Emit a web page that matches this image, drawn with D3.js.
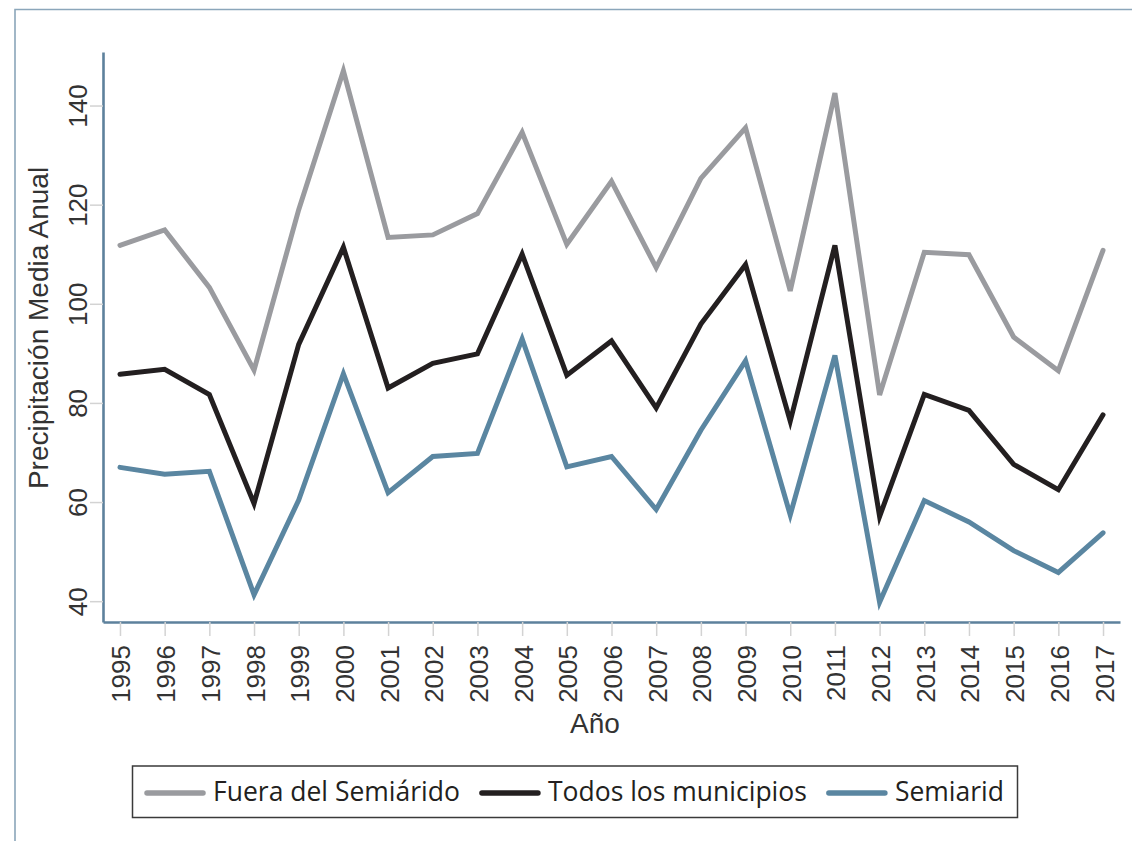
<!DOCTYPE html>
<html>
<head>
<meta charset="utf-8">
<script src="https://cdn.jsdelivr.net/npm/d3@7/dist/d3.min.js"></script>
<style>
  html, body { margin: 0; padding: 0; background: #fff; }
  svg { display: block; }
</style>
</head>
<body>
<div id="chart"></div>
<script>
// years on the x axis
const years = [1995, 1996, 1997, 1998, 1999, 2000, 2001, 2002, 2003, 2004, 2005, 2006,
  2007, 2008, 2009, 2010, 2011, 2012, 2013, 2014, 2015, 2016, 2017];

const fuera = [111.8, 114.9, 103.3, 86.6, 119.0, 147.0, 113.4, 113.9, 118.2, 134.6, 112.0, 124.7,
  107.3, 125.3, 135.5, 102.6, 142.5, 81.6, 110.4, 109.9, 93.3, 86.5, 110.8];
const todos = [85.8, 86.8, 81.7, 59.7, 91.8, 111.4, 83.0, 88.0, 89.9, 110.0, 85.6, 92.5,
  79.0, 95.9, 107.9, 76.3, 111.8, 57.1, 81.7, 78.5, 67.6, 62.5, 77.6];
const semiarid = [67.0, 65.6, 66.2, 41.3, 60.4, 85.9, 61.9, 69.2, 69.8, 92.9, 67.1, 69.2,
  58.5, 74.5, 88.5, 57.4, 89.6, 39.8, 60.3, 56.0, 50.2, 45.8, 53.8];

const yTicks = [40, 60, 80, 100, 120, 140];

const seriesNames = ['Fuera del Semiárido', 'Todos los municipios', 'Semiarid'];
const seriesColors = ['#9a9b9f', '#231f20', '#5a86a1'];
const seriesValues = [fuera, todos, semiarid];

const W = 1132, H = 841;
const axisColor = '#5d819c';
const tickFont = '"Liberation Sans", Arial, sans-serif';
const textFont = '"Open Sans", sans-serif';

const svg = d3.select('#chart').append('svg')
  .attr('width', W)
  .attr('height', H);

// outer frame (only top and left edges are visible)
svg.append('path')
  .attr('d', `M15,${H}V9.5H${W}`)
  .attr('fill', 'none')
  .attr('stroke', '#8ba6ba')
  .attr('stroke-width', 1.6);

const x = d3.scalePoint()
  .domain(years)
  .range([103, 1120])
  .padding(0.38);

const y = d3.scaleLinear()
  .domain([35.8, 150.8])
  .range([622, 52]);

// y axis
const yAxis = svg.append('g')
  .attr('transform', 'translate(103,0)')
  .call(d3.axisLeft(y).tickValues(yTicks).tickSize(13).tickSizeOuter(0).tickFormat(d3.format('d')));

yAxis.select('.domain').attr('stroke', axisColor).attr('stroke-width', 2.6);
yAxis.selectAll('.tick line').attr('stroke', '#d3d3d3').attr('stroke-width', 1.5);
yAxis.selectAll('.tick text')
  .attr('x', null).attr('dy', null)
  .attr('transform', 'translate(-16,0) rotate(-90)')
  .attr('text-anchor', 'middle')
  .attr('font-family', tickFont)
  .attr('font-size', 26)
  .attr('fill', '#333');

// x axis
const xAxis = svg.append('g')
  .attr('transform', 'translate(0,622)')
  .call(d3.axisBottom(x).tickSize(14).tickSizeOuter(0));

xAxis.select('.domain').attr('stroke', axisColor).attr('stroke-width', 2.6);
xAxis.selectAll('.tick line').attr('stroke', '#d3d3d3').attr('stroke-width', 1.5);
xAxis.selectAll('.tick text')
  .attr('y', null).attr('dy', null)
  .attr('transform', 'translate(10,23) rotate(-90)')
  .attr('text-anchor', 'end')
  .attr('font-family', tickFont)
  .attr('font-size', 26)
  .attr('fill', '#333');

// axis titles
svg.append('text')
  .attr('transform', `translate(48,${(164 + 492) / 2}) rotate(-90)`)
  .attr('text-anchor', 'middle')
  .attr('font-family', tickFont)
  .attr('font-size', 28)
  .attr('fill', '#333')
  .text('Precipitación Media Anual');

svg.append('text')
  .attr('x', 595)
  .attr('y', 733)
  .attr('text-anchor', 'middle')
  .attr('font-family', tickFont)
  .attr('font-size', 28)
  .attr('fill', '#333')
  .text('Año');

// lines
const line = d3.line()
  .x((d, i) => x(years[i]))
  .y(d => y(d));

seriesValues.forEach((vals, k) => {
  svg.append('path')
    .datum(vals)
    .attr('fill', 'none')
    .attr('stroke', seriesColors[k])
    .attr('stroke-width', 5)
    .attr('stroke-linejoin', 'miter')
    .attr('stroke-linecap', 'round')
    .attr('d', line);
});

// legend
const legend = svg.append('g');
legend.append('rect')
  .attr('x', 132.5)
  .attr('y', 766)
  .attr('width', 885)
  .attr('height', 51.5)
  .attr('fill', '#fff')
  .attr('stroke', '#3a3a3a')
  .attr('stroke-width', 1.5);

let cx = 147;
seriesNames.forEach((name, k) => {
  legend.append('line')
    .attr('x1', cx).attr('x2', cx + 56)
    .attr('y1', 793).attr('y2', 793)
    .attr('stroke', seriesColors[k])
    .attr('stroke-width', 5.5)
    .attr('stroke-linecap', 'round');
  const t = legend.append('text')
    .attr('x', cx + 66)
    .attr('y', 801)
    .attr('font-family', textFont)
    .attr('font-size', 26.5)
    .attr('fill', '#231f20')
    .text(name);
  cx = cx + 66 + t.node().getComputedTextLength() + 22;
});
</script>
</body>
</html>
